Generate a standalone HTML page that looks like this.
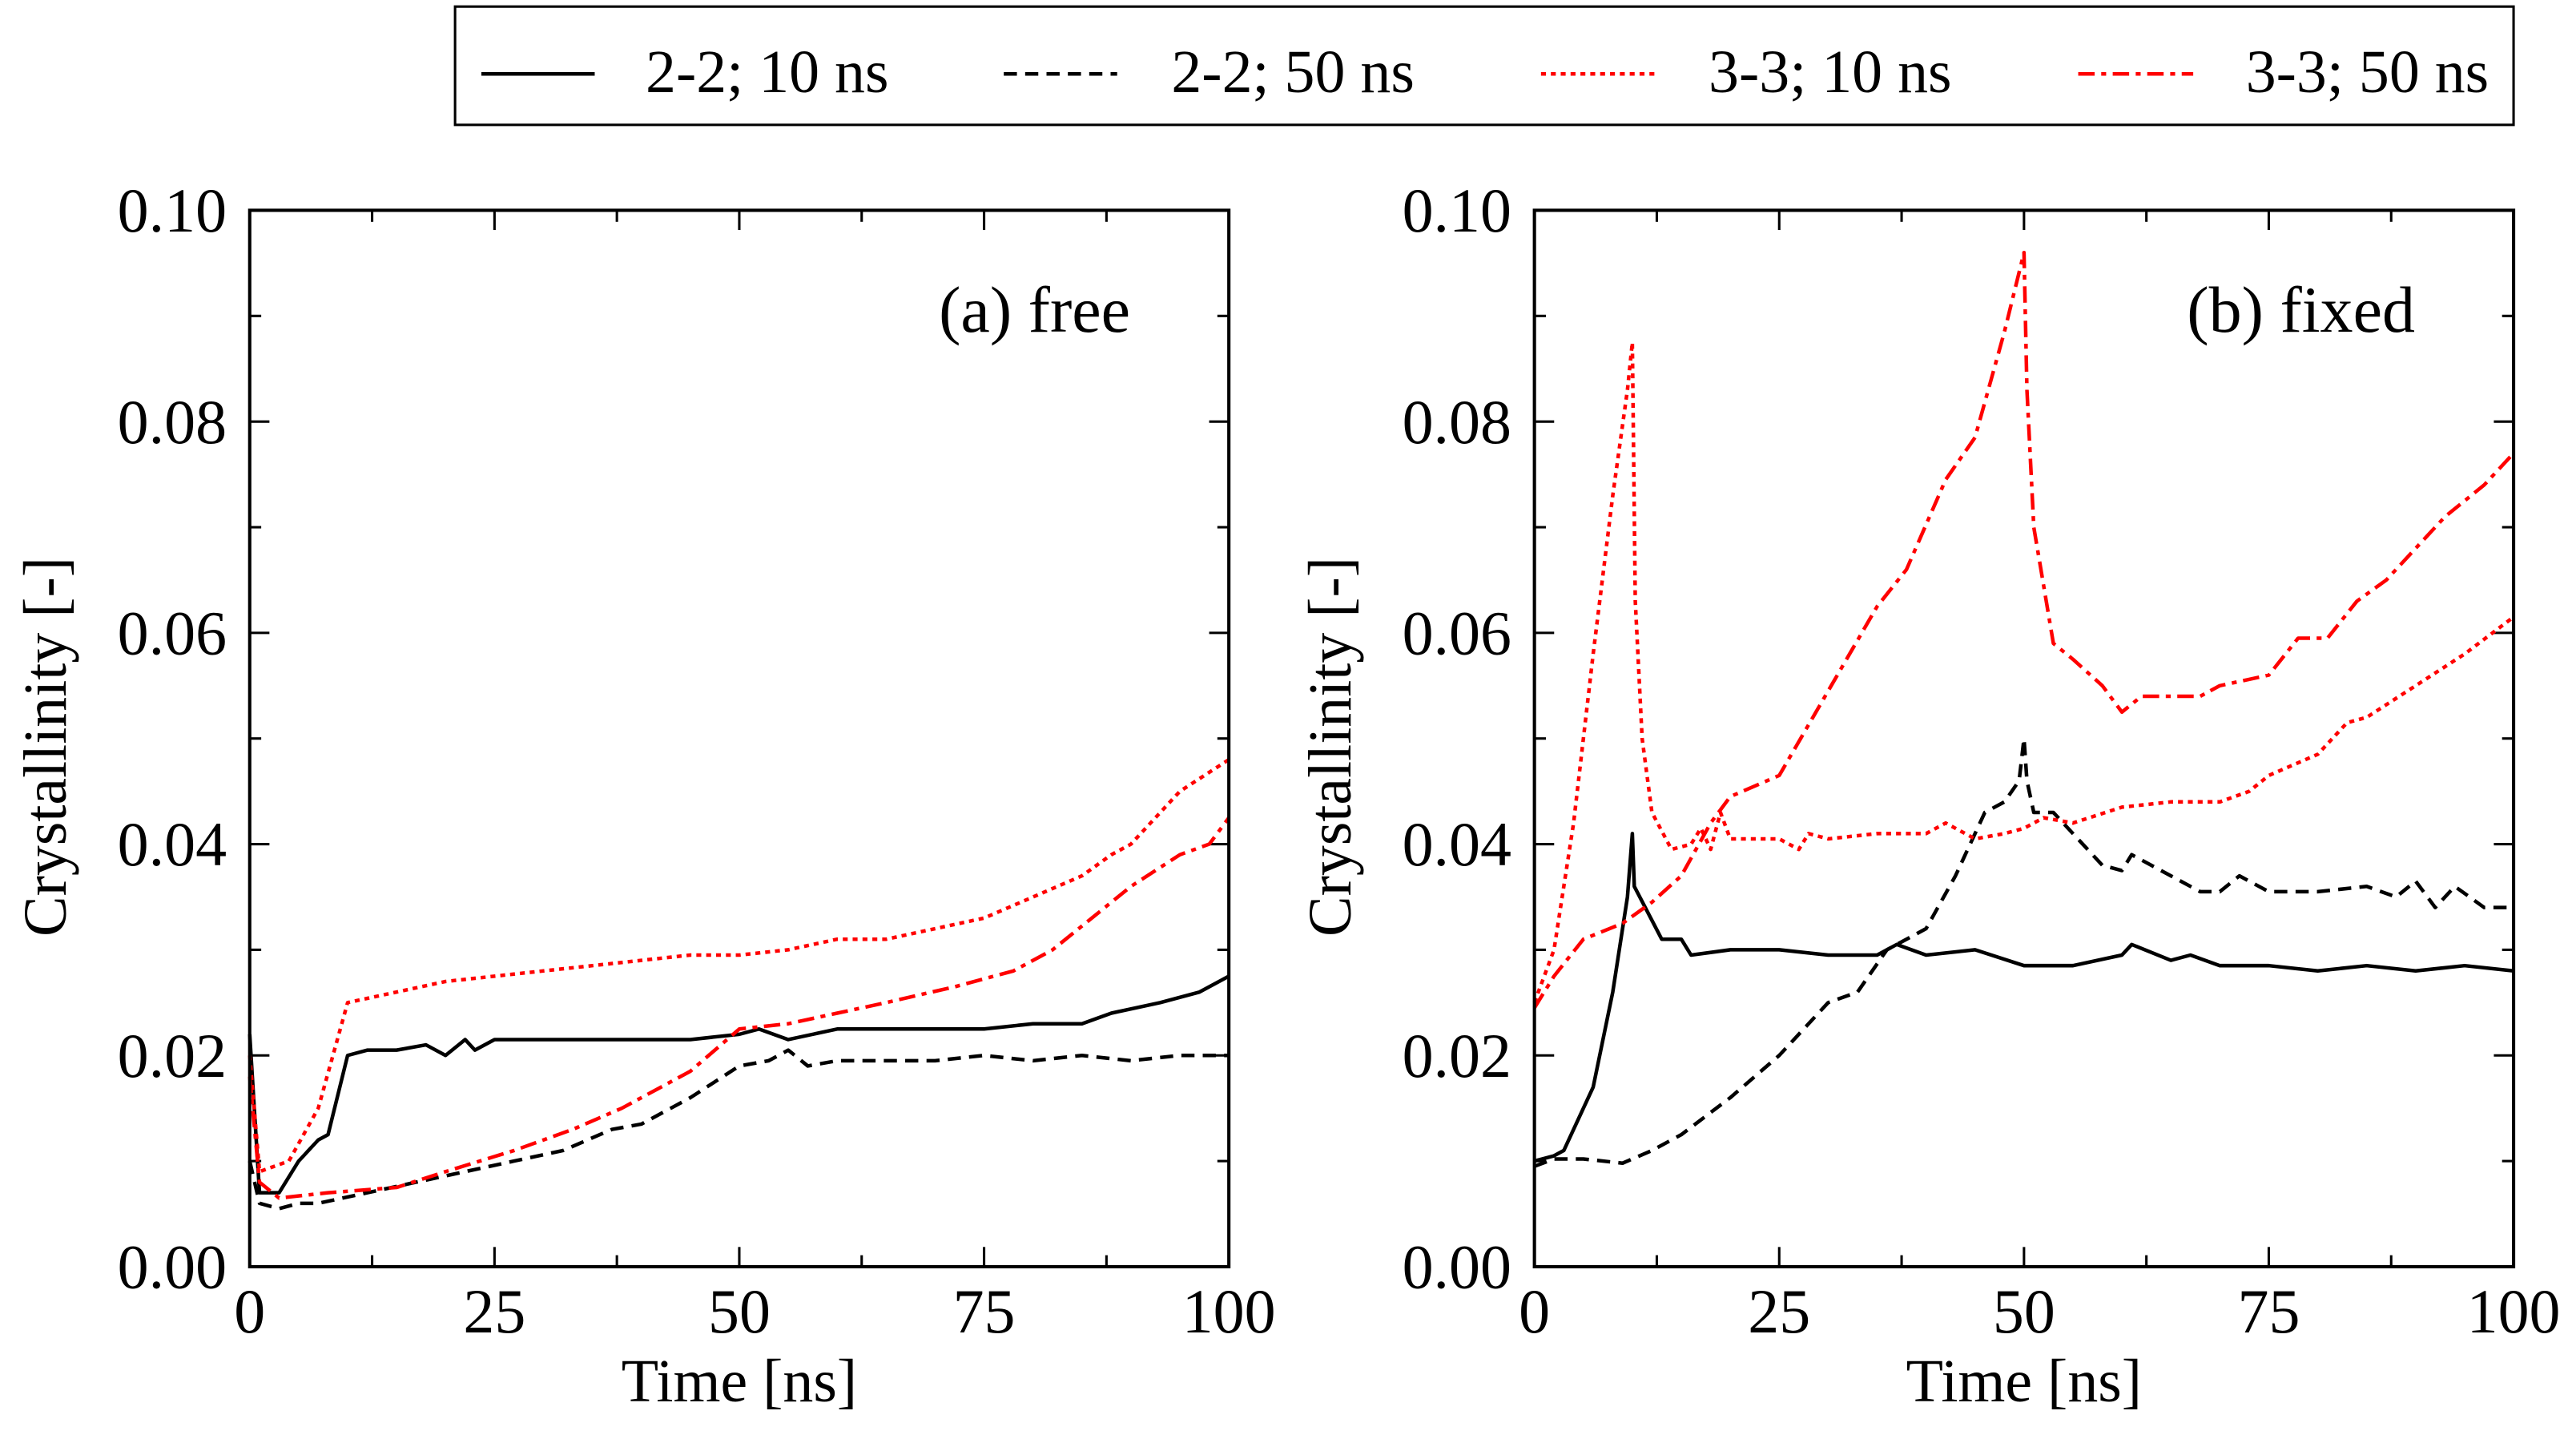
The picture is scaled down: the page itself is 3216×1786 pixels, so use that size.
<!DOCTYPE html>
<html><head><meta charset="utf-8"><style>
html,body{margin:0;padding:0;background:#fff}
svg{display:block}
text{font-family:"Liberation Serif",serif;fill:#000}
</style></head><body>
<svg id="chart" width="3216" height="1786" viewBox="0 0 1568 871" preserveAspectRatio="none" xmlns="http://www.w3.org/2000/svg">
<g>
<rect x="277" y="4" width="1253" height="72" fill="#fff" stroke="#000" stroke-width="1.5"/>
<line x1="293" y1="45" x2="362" y2="45" stroke="#000" stroke-width="2.2"/>
<text x="393" y="56" font-size="37">2-2; 10 ns</text>
<line x1="611" y1="45" x2="680" y2="45" stroke="#000" stroke-width="2.2" stroke-dasharray="8 5"/>
<text x="713" y="56" font-size="37">2-2; 50 ns</text>
<line x1="938" y1="45" x2="1010" y2="45" stroke="#f00" stroke-width="2.2" stroke-dasharray="3 3"/>
<text x="1040" y="56" font-size="37">3-3; 10 ns</text>
<line x1="1265" y1="45" x2="1335" y2="45" stroke="#f00" stroke-width="2.2" stroke-dasharray="10 4 3 4"/>
<text x="1367" y="56" font-size="37">3-3; 50 ns</text>
</g>
</svg>
<script>
// Panel (a) free
const tA_s1 = [0,1,3,5,7,8,10,12,15,18,20,22,23,25,30,35,40,45,50,52,55,60,65,70,75,80,85,88,93,97,100];
const vA_s1 = [0.022,0.007,0.007,0.01,0.012,0.0125,0.02,0.0205,0.0205,0.021,0.02,0.0215,0.0205,0.0215,0.0215,0.0215,0.0215,0.0215,0.022,0.0225,0.0215,0.0225,0.0225,0.0225,0.0225,0.023,0.023,0.024,0.025,0.026,0.0275];
const tA_s2 = [0,1,3,5,7,12,17,22,27,32,37,40,45,50,53,55,57,60,70,75,80,85,90,95,100];
const vA_s2 = [0.01,0.006,0.0055,0.006,0.006,0.007,0.008,0.009,0.01,0.011,0.013,0.0135,0.016,0.019,0.0195,0.0205,0.019,0.0195,0.0195,0.02,0.0195,0.02,0.0195,0.02,0.02];
const tA_s3 = [0,1,4,7,10,15,20,25,30,35,40,45,50,55,60,65,70,75,80,85,88,90,95,100];
const vA_s3 = [0.02,0.009,0.01,0.015,0.025,0.026,0.027,0.0275,0.028,0.0285,0.029,0.0295,0.0295,0.03,0.031,0.031,0.032,0.033,0.035,0.037,0.039,0.04,0.045,0.048];
const tA_s4 = [0,1,3,8,15,20,27,33,38,45,50,55,60,65,72,78,82,86,90,95,98,100];
const vA_s4 = [0.018,0.008,0.0065,0.007,0.0075,0.009,0.011,0.013,0.015,0.0185,0.0225,0.023,0.024,0.025,0.0265,0.028,0.03,0.033,0.036,0.039,0.04,0.0425];
// Panel (b) fixed
const tB_s1 = [0,2,3,6,8,9.5,10,10.2,13,15,16,20,25,30,35,37,40,45,50,55,60,61,65,67,70,75,80,85,90,95,100];
const vB_s1 = [0.01,0.0105,0.011,0.017,0.026,0.035,0.041,0.036,0.031,0.031,0.0295,0.03,0.03,0.0295,0.0295,0.0305,0.0295,0.03,0.0285,0.0285,0.0295,0.0305,0.029,0.0295,0.0285,0.0285,0.028,0.0285,0.028,0.0285,0.028];
const tB_s2 = [0,2,5,9,12,15,20,25,30,33,36,40,43,46,48,49.5,50,50.3,51,53,55,58,60,61,65,68,70,72,75,80,85,88,90,92,94,97,100];
const vB_s2 = [0.0095,0.0102,0.0102,0.0098,0.011,0.0125,0.016,0.02,0.025,0.026,0.03,0.032,0.037,0.043,0.044,0.046,0.05,0.046,0.043,0.043,0.041,0.038,0.0375,0.039,0.037,0.0355,0.0355,0.037,0.0355,0.0355,0.036,0.035,0.0365,0.034,0.036,0.034,0.034];
const tB_s3 = [0,2,4,6,8,9.5,10,10.3,11,12,14,16,17,18,19,20,25,27,28,30,35,40,42,45,48,50,52,55,60,65,70,73,75,80,83,85,90,95,100];
const vB_s3 = [0.025,0.03,0.042,0.058,0.073,0.083,0.0875,0.063,0.05,0.043,0.0395,0.04,0.0415,0.0395,0.043,0.0405,0.0405,0.0395,0.041,0.0405,0.041,0.041,0.042,0.0405,0.041,0.0415,0.0425,0.042,0.0435,0.044,0.044,0.045,0.0465,0.0485,0.0515,0.052,0.055,0.058,0.0615];
const tB_s4 = [0,2,5,9,12,15,18,20,25,30,35,38,42,45,48,50,50.3,51,53,55,58,60,62,65,68,70,75,78,81,84,87,90,93,97,100];
const vB_s4 = [0.0245,0.0275,0.031,0.0325,0.0345,0.037,0.042,0.0445,0.0465,0.0545,0.0625,0.066,0.0745,0.0785,0.0885,0.096,0.083,0.07,0.059,0.0575,0.055,0.0525,0.054,0.054,0.054,0.055,0.056,0.0595,0.0595,0.063,0.065,0.068,0.071,0.074,0.077];
const yTicks = ["0.00","0.02","0.04","0.06","0.08","0.10"];
const xTicks = ["0","25","50","75","100"];

const NS="http://www.w3.org/2000/svg";
const svg=document.getElementById('chart');
function mk(tag,attrs,parent){const e=document.createElementNS(NS,tag);for(const k in attrs)e.setAttribute(k,attrs[k]);(parent||svg).appendChild(e);return e;}
const Y0=771,Y1=128;
function panel(x0,x1,label,id,series){
  const g=mk('g',{});
  
  
  const sx=t=>x0+(t/100)*(x1-x0);
  const sy=v=>Y0-(v/0.1)*(Y0-Y1);
  for(let i=0;i<=10;i++){const v=i*0.01;const y=sy(v);const L=(i%2===0)?12:7;
    mk('line',{x1:x0,y1:y,x2:x0+L,y2:y,stroke:'#000','stroke-width':1.5},g);
    mk('line',{x1:x1,y1:y,x2:x1-L,y2:y,stroke:'#000','stroke-width':1.5},g);}
  for(let i=0;i<=8;i++){const t=i*12.5;const x=sx(t);const L=(i%2===0)?12:7;
    mk('line',{x1:x,y1:Y0,x2:x,y2:Y0-L,stroke:'#000','stroke-width':1.5},g);
    mk('line',{x1:x,y1:Y1,x2:x,y2:Y1+L,stroke:'#000','stroke-width':1.5},g);}
  yTicks.forEach(s=>{const t=mk('text',{x:x0-14,y:sy(parseFloat(s))+13,'font-size':38,'text-anchor':'end'},g);t.textContent=s;
    
    });
  xTicks.forEach(s=>{const t=mk('text',{x:sx(parseFloat(s)),y:811,'font-size':38,'text-anchor':'middle'},g);t.textContent=s;
    
    });
  const xt=mk('text',{x:(x0+x1)/2,y:853,'font-size':37,'text-anchor':'middle'},g);xt.textContent='Time [ns]';
  
  
  const yt=mk('text',{x:0,y:0,'font-size':37,'text-anchor':'middle',transform:`translate(${x0-112},${(Y0+Y1)/2+5}) rotate(-90)`},g);yt.textContent='Crystallinity [-]';
  
  
  const pl=mk('text',{x:x1-60,y:202,'font-size':40,'text-anchor':'end'},g);pl.textContent=label;
  
  
  series.forEach(s=>{
    const d=s.t.map((t,i)=>(i?'L':'M')+sx(t).toFixed(2)+','+sy(s.v[i]).toFixed(2)).join('');
    const p=mk('path',{d:d,fill:'none',stroke:s.c,'stroke-width':2.2,'stroke-dasharray':s.dash,'stroke-linejoin':'round'},g);
    
    
  });
  const fr=mk('rect',{x:x0,y:Y1,width:x1-x0,height:Y0-Y1,fill:'none',stroke:'#000','stroke-width':2},g);
  
  
}
panel(152,748,'(a) free','free',[
  {t:tA_s1,v:vA_s1,c:'#000',dash:'none',n:'2-2-10ns'},
  {t:tA_s2,v:vA_s2,c:'#000',dash:'8 5',n:'2-2-50ns'},
  {t:tA_s3,v:vA_s3,c:'#f00',dash:'3 3',n:'3-3-10ns'},
  {t:tA_s4,v:vA_s4,c:'#f00',dash:'10 4 3 4',n:'3-3-50ns'}]);
panel(934,1530,'(b) fixed','fixed',[
  {t:tB_s1,v:vB_s1,c:'#000',dash:'none',n:'2-2-10ns'},
  {t:tB_s2,v:vB_s2,c:'#000',dash:'8 5',n:'2-2-50ns'},
  {t:tB_s3,v:vB_s3,c:'#f00',dash:'3 3',n:'3-3-10ns'},
  {t:tB_s4,v:vB_s4,c:'#f00',dash:'10 4 3 4',n:'3-3-50ns'}]);
</script>
</body></html>
